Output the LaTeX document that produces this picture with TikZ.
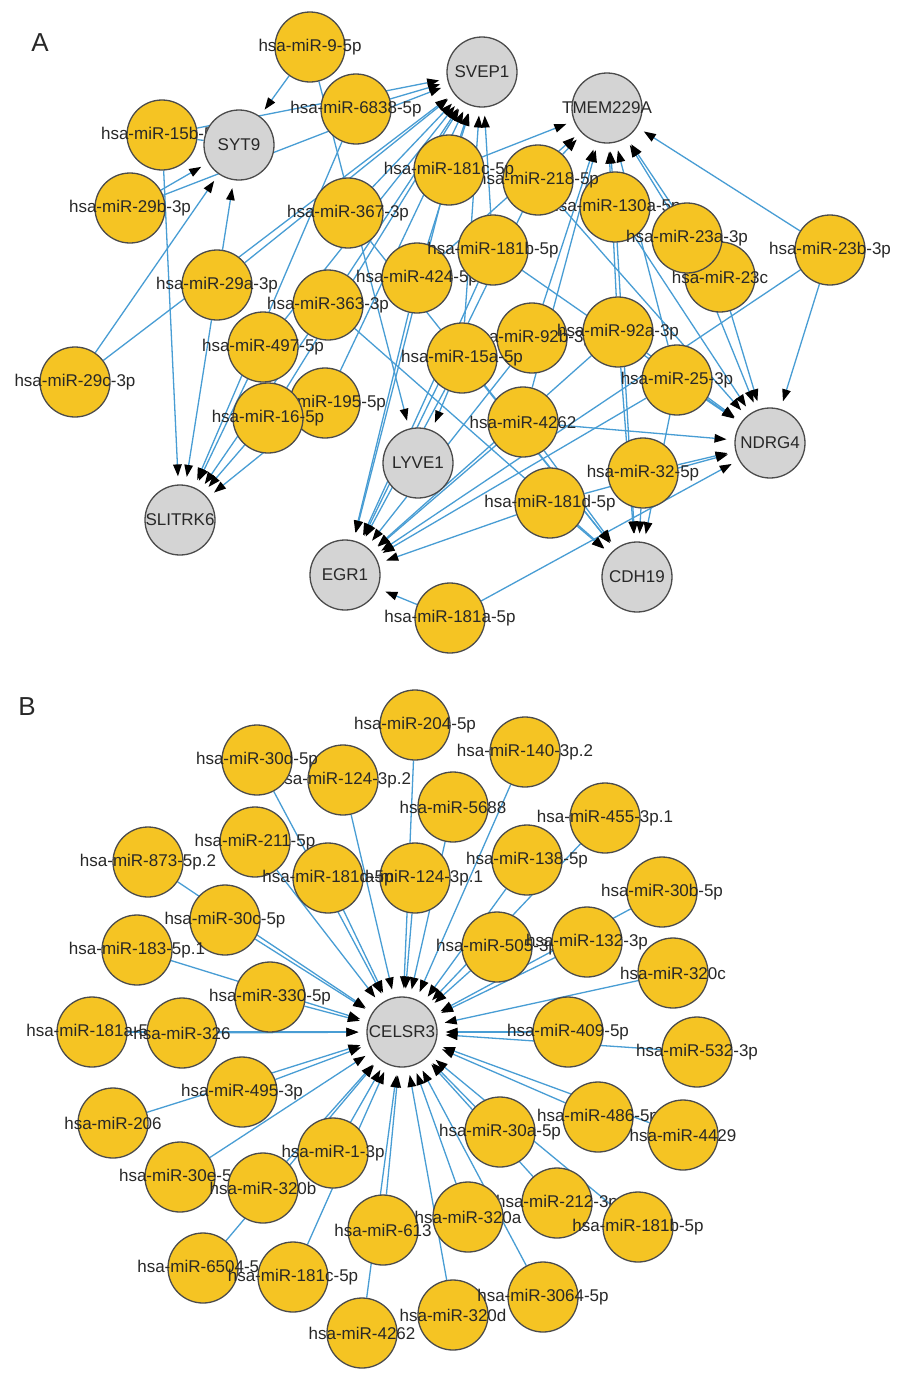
\documentclass[tikz,border=0pt]{standalone}
\usepackage{fontspec}
\setmainfont{Liberation Sans}
\usetikzlibrary{arrows.meta}
\pgfdeclarelayer{backmost}
\pgfdeclarelayer{background}
\pgfsetlayers{backmost,background,main}
\definecolor{mirfill}{RGB}{245,196,35}
\definecolor{genefill}{RGB}{212,212,212}
\definecolor{nodeline}{RGB}{75,75,75}
\definecolor{linkblue}{RGB}{72,157,212}
\definecolor{txt}{RGB}{40,40,40}
\tikzset{
 basenode/.style={circle,draw=nodeline,line width=1.3pt,minimum size=70pt,inner sep=0pt},
 mir/.style={basenode,fill=mirfill},
 gene/.style={basenode,fill=genefill},
 lab/.style={font=\fontsize{17}{17}\selectfont,text=txt,inner sep=0pt},
 mylink/.style={draw=linkblue,line width=1.3pt,-{Triangle[length=12pt,width=8.5pt,color=black]},shorten >=8pt},
 panellab/.style={font=\fontsize{26}{26}\selectfont,text=txt,inner sep=0pt},
}
\newcommand\mnode[4]{\node[mir,label={[lab]center:#4}] (#1) at (#2,#3) {};}
\newcommand\gnode[4]{\node[gene,label={[lab]center:#4}] (#1) at (#2,#3) {};}
\begin{document}
\begin{tikzpicture}[x=1pt,y=-1pt]
\useasboundingbox (0,0) rectangle (898,1379);
\begin{pgfonlayer}{backmost}
\fill[white] (0,0) rectangle (898,1379);
\end{pgfonlayer}
\node[panellab] (pA) at (40,43) {A};
\node[panellab] (pB) at (27,707) {B};
% ---------- Panel A nodes ----------
\mnode{a15b}{162}{135}{hsa-miR-15b-5p}
\gnode{syt}{239}{145}{SYT9}
\mnode{a95}{310}{47}{hsa-miR-9-5p}
\mnode{a6838}{356}{109}{hsa-miR-6838-5p}
\mnode{a29b}{130}{208}{hsa-miR-29b-3p}
\mnode{a29c}{75}{382}{hsa-miR-29c-3p}
\mnode{a367}{348}{213}{hsa-miR-367-3p}
\mnode{a29a}{217}{285}{hsa-miR-29a-3p}
\mnode{a363}{328}{305}{hsa-miR-363-3p}
\mnode{a424}{417}{278}{hsa-miR-424-5p}
\mnode{a130a}{615}{207}{hsa-miR-130a-5p}
\mnode{a218}{538}{180}{hsa-miR-218-5p}
\mnode{a181c}{449}{170}{hsa-miR-181c-5p}
\mnode{a181b}{493}{250}{hsa-miR-181b-5p}
\mnode{a23c}{720}{277}{hsa-miR-23c}
\mnode{a23a}{687}{238}{hsa-miR-23a-3p}
\mnode{a23b}{830}{250}{hsa-miR-23b-3p}
\gnode{tmem}{607}{108}{TMEM229A}
\gnode{svep}{482}{72}{SVEP1}
\mnode{a497}{263}{347}{hsa-miR-497-5p}
\mnode{a195}{325}{403}{hsa-miR-195-5p}
\mnode{a16}{268}{418}{hsa-miR-16-5p}
\mnode{a92b}{532}{338}{hsa-miR-92b-3p}
\mnode{a92a}{618}{332}{hsa-miR-92a-3p}
\mnode{a15a}{462}{358}{hsa-miR-15a-5p}
\mnode{a25}{677}{380}{hsa-miR-25-3p}
\mnode{a4262}{523}{422}{hsa-miR-4262}
\mnode{a32}{643}{473}{hsa-miR-32-5p}
\mnode{a181d}{550}{503}{hsa-miR-181d-5p}
\mnode{a181a}{450}{618}{hsa-miR-181a-5p}
\gnode{slit}{180}{520}{SLITRK6}
\gnode{lyve}{418}{463}{LYVE1}
\gnode{egr}{345}{575}{EGR1}
\gnode{ndrg}{770}{443}{NDRG4}
\gnode{cdh}{637}{577}{CDH19}
% ---------- Panel B nodes ----------
\mnode{b204}{415}{725}{hsa-miR-204-5p}
\mnode{b1402}{525}{752}{hsa-miR-140-3p.2}
\mnode{b1242}{343}{780}{hsa-miR-124-3p.2}
\mnode{b30d}{257}{760}{hsa-miR-30d-5p}
\mnode{b5688}{453}{807}{hsa-miR-5688}
\mnode{b455}{605}{818}{hsa-miR-455-3p.1}
\mnode{b211}{255}{842}{hsa-miR-211-5p}
\mnode{b1241}{415}{878}{hsa-miR-124-3p.1}
\mnode{b181d}{328}{878}{hsa-miR-181d-5p}
\mnode{b138}{527}{860}{hsa-miR-138-5p}
\mnode{b30b}{662}{892}{hsa-miR-30b-5p}
\mnode{b30c}{225}{920}{hsa-miR-30c-5p}
\mnode{b873}{148}{862}{hsa-miR-873-5p.2}
\mnode{b183}{137}{950}{hsa-miR-183-5p.1}
\mnode{b50}{497}{947}{hsa-miR-505-3p}
\mnode{b132}{587}{942}{hsa-miR-132-3p}
\mnode{b320c}{673}{973}{hsa-miR-320c}
\mnode{b330}{270}{997}{hsa-miR-330-5p}
\mnode{b181a}{92}{1032}{hsa-miR-181a-5p}
\mnode{b326}{182}{1033}{hsa-miR-326}
\mnode{b409}{568}{1032}{hsa-miR-409-5p}
\mnode{b532}{697}{1052}{hsa-miR-532-3p}
\mnode{b495}{242}{1092}{hsa-miR-495-3p}
\mnode{b206}{113}{1123}{hsa-miR-206}
\mnode{b30a}{500}{1132}{hsa-miR-30a-5p}
\mnode{b486}{598}{1117}{hsa-miR-486-5p}
\mnode{b4429}{683}{1135}{hsa-miR-4429}
\mnode{b13}{333}{1153}{hsa-miR-1-3p}
\mnode{b30e}{180}{1177}{hsa-miR-30e-5p}
\mnode{b320b}{263}{1188}{hsa-miR-320b}
\mnode{b613}{383}{1230}{hsa-miR-613}
\mnode{b212}{557}{1203}{hsa-miR-212-3p}
\mnode{b320a}{468}{1217}{hsa-miR-320a}
\mnode{b181b}{638}{1227}{hsa-miR-181b-5p}
\mnode{b6504}{203}{1268}{hsa-miR-6504-5p}
\mnode{b181c}{293}{1277}{hsa-miR-181c-5p}
\mnode{b320d}{453}{1315}{hsa-miR-320d}
\mnode{b3064}{543}{1297}{hsa-miR-3064-5p}
\mnode{b4262}{362}{1333}{hsa-miR-4262}
\gnode{cel}{402}{1032}{CELSR3}
% ---------- edges ----------
\begin{pgfonlayer}{background}
\foreach \s in {a95,a29b,a29c,a29a} \draw[mylink] (\s) -- (syt);
\foreach \s in {a15b,a29b,a29c,a6838,a29a,a367,a497,a16,a363,a195,a424,a181c,a181b,a15a} \draw[mylink] (\s) -- (svep);
\foreach \s in {a181c,a218,a130a,a23a,a23c,a23b,a92a,a92b,a25,a4262,a424} \draw[mylink] (\s) -- (tmem);
\foreach \s in {a23b,a23a,a23c,a130a,a218,a181b,a92a,a25,a4262,a32,a181d,a181a} \draw[mylink] (\s) -- (ndrg);
\foreach \s in {a32,a92a,a25,a130a,a4262,a181d,a15a,a363,a367} \draw[mylink] (\s) -- (cdh);
\foreach \s in {a181a,a4262,a181d,a15a,a92b,a92a,a25,a424,a181b,a181c,a218,a23b} \draw[mylink] (\s) -- (egr);
\foreach \s in {a95,a15a} \draw[mylink] (\s) -- (lyve);
\foreach \s in {a15b,a29a,a497,a16,a195,a363,a6838} \draw[mylink] (\s) -- (slit);
\draw[draw=linkblue,line width=1.3pt] (a15b) -- (syt);
\foreach \s in {b204,b1402,b1242,b30d,b5688,b455,b211,b1241,b181d,b138,b30b,b30c,b873,b183,b50,b132,b320c,b330,b181a,b326,b409,b532,b495,b206,b30a,b486,b4429,b13,b30e,b320b,b613,b212,b320a,b181b,b6504,b181c,b320d,b3064,b4262} \draw[mylink] (\s) -- (cel);
\end{pgfonlayer}
\end{tikzpicture}
\end{document}
